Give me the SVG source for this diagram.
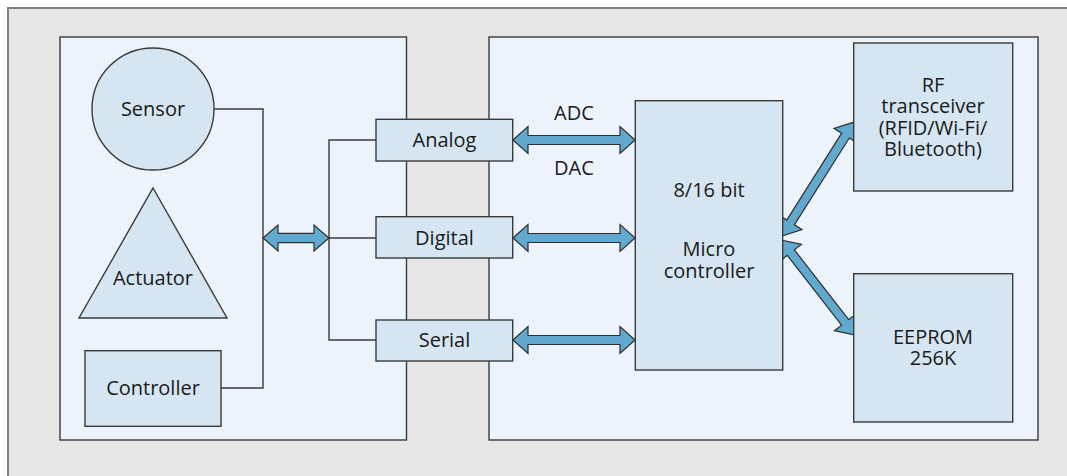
<svg xmlns="http://www.w3.org/2000/svg" width="1067" height="476" viewBox="0 0 1067 476">
  <style>
    .frame { fill: #e6e6e7; stroke: #808080; stroke-width: 2; }
    .panel { fill: #ecf3fa; stroke: #3a3a3a; stroke-width: 1.4; }
    .box { fill: #d5e6f2; stroke: #3a3a3a; stroke-width: 1.4; }
    .wire { fill: none; stroke: #3a3a3a; stroke-width: 1.4; }
    .bus { fill: #62a9cf; stroke: #2e2e2e; stroke-width: 1.2; stroke-linejoin: miter; }
    text { font-family: "Open Sans", "Noto Sans", "Liberation Sans", sans-serif; font-size: 20px; fill: #1a1a1a; text-anchor: middle; }
  </style>

  <!-- background frame -->
  <rect class="frame" x="8" y="8" width="1070" height="480"/>

  <!-- two module panels -->
  <rect class="panel" x="60" y="37" width="346.5" height="403"/>
  <rect class="panel" x="489" y="37" width="549" height="403"/>

  <!-- connectors -->
  <g id="connectors">
    <!-- sensor / controller wiring to the bus -->
    <polyline class="wire" points="214,109 263,109 263,388 221,388"/>
    <!-- bus fan-out to the three interfaces -->
    <polyline class="wire" points="376,140 329,140 329,340 376,340"/>
    <line class="wire" x1="329" y1="238" x2="376" y2="238"/>

    <!-- bus double arrow -->
    <polygon class="bus" points="263,238 278,225 278,233.3 314,233.3 314,225 329,238 314,251 314,242.7 278,242.7 278,251"/>

    <!-- interface to microcontroller arrows -->
    <polygon class="bus" points="513,140 528,126.5 528,135.5 620,135.5 620,126.5 635,140 620,153.5 620,144.5 528,144.5 528,153.5"/>
    <polygon class="bus" points="513,238 528,224.5 528,233.5 620,233.5 620,224.5 635,238 620,251.5 620,242.5 528,242.5 528,251.5"/>
    <polygon class="bus" points="513,340 528,326.5 528,335.5 620,335.5 620,326.5 635,340 620,353.5 620,344.5 528,344.5 528,353.5"/>

    <!-- microcontroller to RF transceiver -->
    <g transform="translate(782,236) rotate(-57.7)">
      <polygon class="bus" points="0,0 16,-13.5 16,-4.5 118.8,-4.5 118.8,-13.5 134.8,0 118.8,13.5 118.8,4.5 16,4.5 16,13.5"/>
    </g>
    <!-- microcontroller to EEPROM -->
    <g transform="translate(781,240) rotate(52.1)">
      <polygon class="bus" points="0,0 16,-13.5 16,-4.5 104.4,-4.5 104.4,-13.5 120.4,0 104.4,13.5 104.4,4.5 16,4.5 16,13.5"/>
    </g>

    <text x="574" y="120">ADC</text>
    <text x="574" y="175">DAC</text>
  </g>

  <!-- field devices -->
  <g id="sensor">
    <circle class="box" cx="153" cy="109" r="61"/>
    <text x="153" y="116">Sensor</text>
  </g>
  <g id="actuator">
    <polygon class="box" points="153,188 227,318 79,318"/>
    <text x="153" y="285">Actuator</text>
  </g>
  <g id="controller">
    <rect class="box" x="85" y="350.7" width="136" height="75.6"/>
    <text x="153" y="395">Controller</text>
  </g>

  <!-- interfaces -->
  <g id="analog">
    <rect class="box" x="376" y="119.3" width="136.7" height="41.7"/>
    <text x="444.5" y="147.3">Analog</text>
  </g>
  <g id="digital">
    <rect class="box" x="376" y="216.7" width="136.7" height="41.3"/>
    <text x="444.5" y="244.5">Digital</text>
  </g>
  <g id="serial">
    <rect class="box" x="376" y="320" width="136.7" height="41"/>
    <text x="444.5" y="347">Serial</text>
  </g>

  <!-- processing module -->
  <g id="microcontroller">
    <rect class="box" x="635.3" y="100.7" width="147.4" height="269.3"/>
    <text x="709" y="197">8/16 bit</text>
    <text x="709" y="256">Micro</text>
    <text x="709" y="278">controller</text>
  </g>
  <g id="rf-transceiver">
    <rect class="box" x="853.7" y="43" width="159" height="148"/>
    <text x="933" y="91.5">RF</text>
    <text x="933" y="113">transceiver</text>
    <text x="933" y="135">(RFID/Wi-Fi/</text>
    <text x="933" y="156">Bluetooth)</text>
  </g>
  <g id="eeprom">
    <rect class="box" x="853.7" y="273.7" width="159" height="148.3"/>
    <text x="933" y="344">EEPROM</text>
    <text x="933" y="365">256K</text>
  </g>
</svg>
